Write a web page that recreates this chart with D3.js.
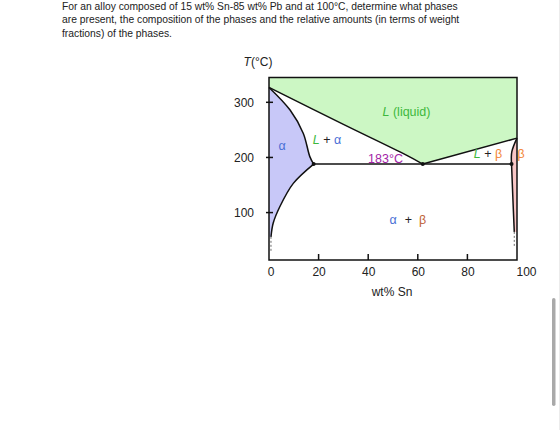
<!DOCTYPE html>
<html>
<head>
<meta charset="utf-8">
<script src="https://cdn.jsdelivr.net/npm/d3@7"></script>
<style>
  body { margin: 0; background: #fff; }
  text { font-family: "Liberation Sans", Arial, sans-serif; }
</style>
</head>
<body>
<div id="chart"></div>
<script>
// question text above the diagram
var questionLines = [
  "For an alloy composed of 15 wt% Sn-85 wt% Pb and at 100°C, determine what phases",
  "are present, the composition of the phases and the relative amounts (in terms of weight",
  "fractions) of the phases."
];

// tick values
var xTicks = [0, 20, 40, 60, 80, 100];
var yTicks = [100, 200, 300];

// phase boundaries, [wt% Sn, T in °C]
var liquidusLeft = [[0, 327], [30, 260], [55, 205], [62, 188]];
var liquidusRight = [[62, 188], [100, 235]];
var solidusAlpha = [[0, 327], [8.5, 286], [13.8, 244], [16.5, 201], [18, 188]];
var solvusAlpha = [[18, 188], [9.8, 153], [4.4, 111], [1.7, 81], [0.8, 56]];
var solidusBeta = [[100, 235], [97.9, 210], [97.8, 188]];
var solvusBeta = [[97.8, 188], [98.3, 130], [98.9, 65]];
var eutectic = [[18, 188], [62, 188], [97.8, 188]];
var dashedAlpha = [[0.8, 56], [0.8, 28]];
var dashedBeta = [[98.9, 65], [98.9, 39]];

var svgWidth = 560;
var svgHeight = 430;

var svg = d3.select("#chart")
  .append("svg")
  .attr("width", svgWidth)
  .attr("height", svgHeight);

svg.selectAll(".question")
  .data(questionLines)
  .enter()
  .append("text")
  .attr("x", 62)
  .attr("y", (d, i) => 9.5 + i * 13.8)
  .attr("font-size", 10.3)
  .attr("fill", "#222")
  .text(d => d);

var x = d3.scaleLinear().domain([0, 100]).range([269, 517]);
var y = d3.scaleLinear().domain([14, 345]).range([260, 77.5]);

var line = d3.line()
  .x(d => x(d[0]))
  .y(d => y(d[1]))
  .curve(d3.curveCatmullRom);
var straight = d3.line()
  .x(d => x(d[0]))
  .y(d => y(d[1]));

function join(a, b) {
  return a + b.replace(/^M/, "L");
}

// liquid region
svg.append("path")
  .attr("d", join(straight([[0, 345], [0, 327]]), join(line(liquidusLeft), straight([[62, 188], [100, 235], [100, 345]]))) + "Z")
  .attr("fill", "#ccf7c4");

// alpha region
svg.append("path")
  .attr("d", join(line(solidusAlpha), line(solvusAlpha)) + "L" + x(0) + "," + y(56) + "Z")
  .attr("fill", "#c8c8f8");

// beta region
svg.append("path")
  .attr("d", join(line(solidusBeta), line(solvusBeta)) + "L" + x(100) + "," + y(65) + "Z")
  .attr("fill", "#f8c6c6");

// boundaries
[liquidusLeft, solidusAlpha, solvusAlpha, solidusBeta, solvusBeta].forEach(function(pts) {
  svg.append("path")
    .attr("d", line(pts))
    .attr("fill", "none")
    .attr("stroke", "#111")
    .attr("stroke-width", 1.5);
});
[liquidusRight, eutectic].forEach(function(pts) {
  svg.append("path")
    .attr("d", straight(pts))
    .attr("fill", "none")
    .attr("stroke", "#111")
    .attr("stroke-width", 1.5);
});
[dashedAlpha, dashedBeta].forEach(function(pts) {
  svg.append("path")
    .attr("d", straight(pts))
    .attr("fill", "none")
    .attr("stroke", "#444")
    .attr("stroke-width", 0.8)
    .attr("stroke-dasharray", "2,2");
});

svg.selectAll(".dot")
  .data(eutectic)
  .enter()
  .append("circle")
  .attr("cx", d => x(d[0]))
  .attr("cy", d => y(d[1]))
  .attr("r", 2)
  .attr("fill", "#111");

// frame
svg.append("rect")
  .attr("x", x(0))
  .attr("y", y(345))
  .attr("width", x(100) - x(0))
  .attr("height", y(14) - y(345))
  .attr("fill", "none")
  .attr("stroke", "#111")
  .attr("stroke-width", 1.5);

// axes
var bottomAxis = d3.axisBottom(x).tickValues(xTicks).tickSize(0).tickPadding(7);
var xAxis = svg.append("g")
  .attr("transform", `translate(0, ${y(14)})`)
  .call(bottomAxis);
xAxis.select(".domain").remove();
xAxis.selectAll("text").attr("font-size", 12).attr("fill", "#222")
  .attr("dx", d => d === 100 ? 9 : (d === 0 ? 1.5 : 0));

svg.selectAll(".xtick")
  .data(xTicks.slice(1, 5))
  .enter()
  .append("line")
  .attr("x1", d => x(d)).attr("x2", d => x(d))
  .attr("y1", y(14)).attr("y2", y(14) - 6)
  .attr("stroke", "#111")
  .attr("stroke-width", 1.5);

var leftAxis = d3.axisLeft(y).tickValues(yTicks).tickSize(0).tickPadding(15);
var yAxis = svg.append("g")
  .attr("transform", `translate(${x(0)}, 0)`)
  .call(leftAxis);
yAxis.select(".domain").remove();
yAxis.selectAll("text").attr("font-size", 12).attr("fill", "#222");

svg.selectAll(".ytick")
  .data(yTicks)
  .enter()
  .append("line")
  .attr("x1", x(0) - 3).attr("x2", x(0) + 4)
  .attr("y1", d => y(d)).attr("y2", d => y(d))
  .attr("stroke", "#111")
  .attr("stroke-width", 1.5);

// axis titles
var tTitle = svg.append("text")
  .attr("x", 258)
  .attr("y", 66)
  .attr("text-anchor", "middle")
  .attr("font-size", 12)
  .attr("fill", "#222");
tTitle.append("tspan").attr("font-style", "italic").text("T");
tTitle.append("tspan").text("(°C)");

svg.append("text")
  .attr("x", 392)
  .attr("y", 296)
  .attr("text-anchor", "middle")
  .attr("font-size", 12)
  .attr("fill", "#222")
  .text("wt% Sn");

// phase labels
var green = "#3db83d", blue = "#4a6fd6", orange = "#f2873a", brown = "#c0643a";

function phaseLabel(px, py, parts) {
  var t = svg.append("text")
    .attr("x", px)
    .attr("y", py)
    .attr("text-anchor", "middle")
    .attr("font-size", 12.5);
  parts.forEach(function(p) {
    var s = t.append("tspan").attr("fill", p[1]).text(p[0]);
    if (p[2]) s.attr("font-style", "italic");
  });
}

phaseLabel(406.5, 116, [["L", green, true], [" (liquid)", green]]);
phaseLabel(327, 144, [["L", green, true], [" + ", "#222"], ["α", blue]]);
phaseLabel(282, 150, [["α", blue]]);
phaseLabel(488, 158, [["L", green, true], [" + ", "#222"], ["β", orange]]);
phaseLabel(521, 158, [["β", orange]]);
phaseLabel(393, 224, [["α", blue]]);
phaseLabel(408.5, 224, [["+", "#222"]]);
phaseLabel(422.5, 224, [["β", brown]]);
phaseLabel(385.5, 163, [["183°C", "#a324a8"]]);

// page scrollbar seen in the screenshot
svg.append("line")
  .attr("x1", 559.5).attr("x2", 559.5)
  .attr("y1", 0).attr("y2", svgHeight)
  .attr("stroke", "#ececec");
svg.append("rect")
  .attr("x", 552)
  .attr("y", 298)
  .attr("width", 3.5)
  .attr("height", 108)
  .attr("rx", 1.75)
  .attr("fill", "#a9a9a9");
</script>
</body>
</html>
